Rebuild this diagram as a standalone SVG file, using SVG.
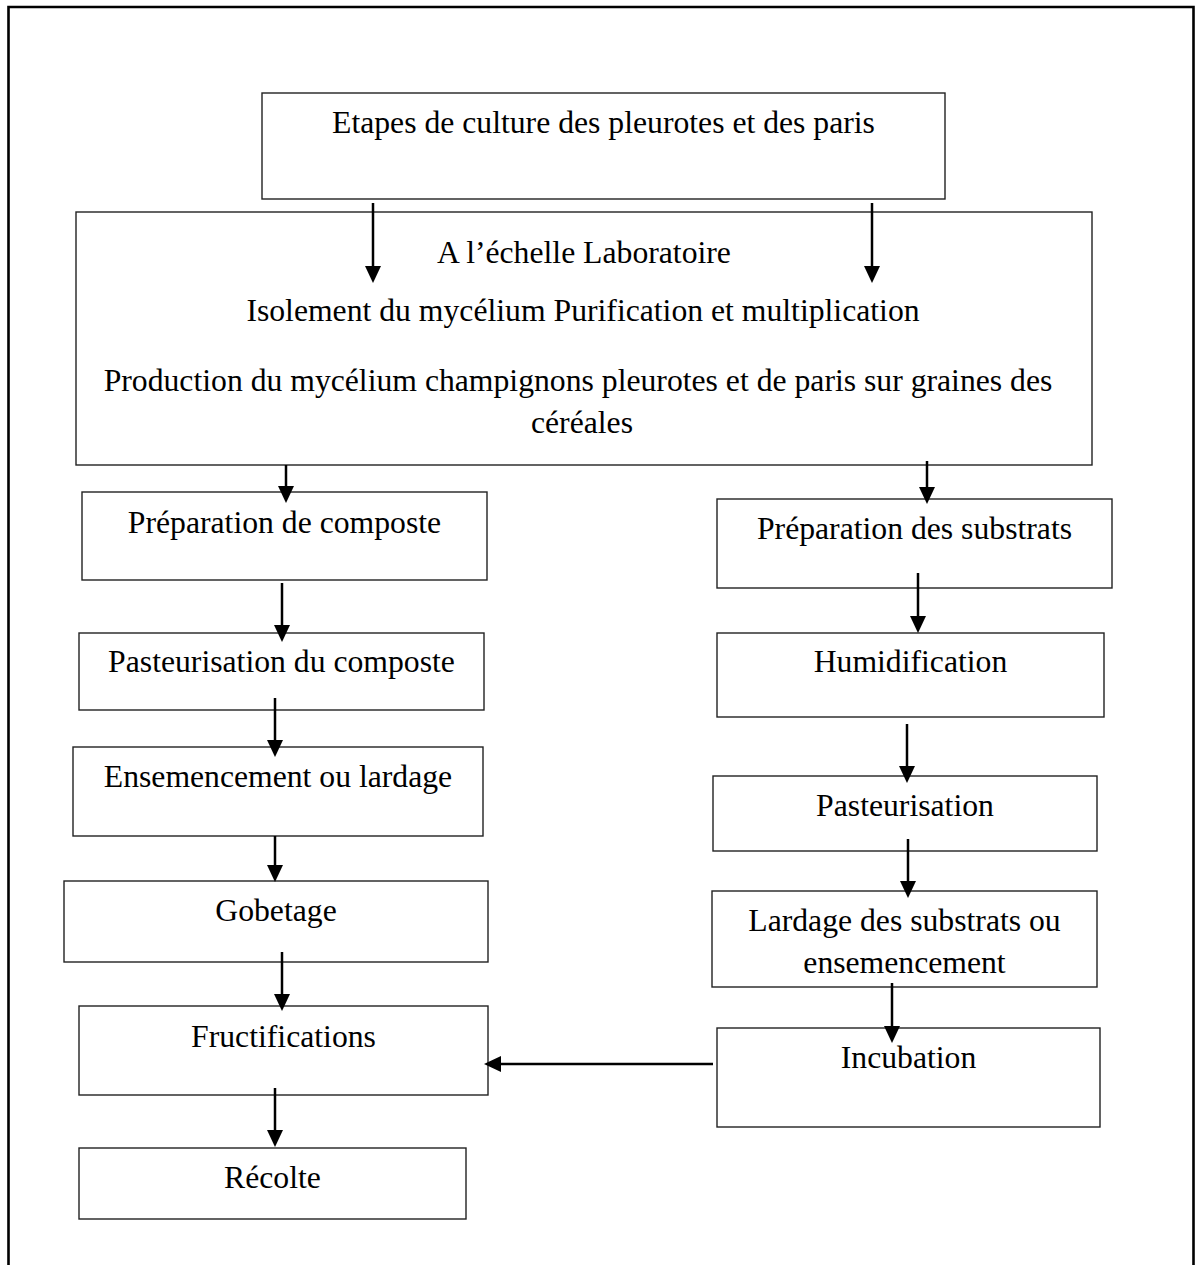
<svg xmlns="http://www.w3.org/2000/svg" width="1198" height="1265" viewBox="0 0 1198 1265">
<style>
.box{fill:#fff;stroke:#222;stroke-width:1.4}
.t{font-family:"Liberation Serif","Times New Roman",serif;font-size:31.7px;fill:#000;text-anchor:middle}
.c{stroke:#000;stroke-width:2.5;fill:none;marker-end:url(#ah)}
</style>
<defs>
<marker id="ah" markerUnits="userSpaceOnUse" viewBox="0 0 17 17" markerWidth="17" markerHeight="17" refX="8" refY="8.5" orient="auto">
<path d="M0,0.5 L17,8.5 L0,16.5 z" fill="#000"/>
</marker>
</defs>
<rect width="1198" height="1265" fill="#fff"/>
<path d="M8.5,1270 L8.5,7 L1193.5,7 L1193.5,1270" fill="none" stroke="#000" stroke-width="2.6"/>

<g id="n-title"><rect class="box" x="262" y="93" width="683" height="106"/><text class="t" x="603.5" y="133">Etapes de culture des pleurotes et des paris</text></g>
<g id="n-labo"><rect class="box" x="76" y="212" width="1016" height="253"/>
<text class="t" x="584" y="263">A l’échelle Laboratoire</text>
<text class="t" x="583" y="321">Isolement du mycélium Purification et multiplication</text>
<text class="t" x="578" y="391">Production du mycélium champignons pleurotes et de paris sur graines des</text>
<text class="t" x="582" y="433">céréales</text></g>
<g id="n-prep-compost"><rect class="box" x="82" y="492" width="405" height="88"/><text class="t" x="284.5" y="533">Préparation de composte</text></g>
<g id="n-past-compost"><rect class="box" x="79" y="633" width="405" height="77"/><text class="t" x="281.5" y="672">Pasteurisation du composte</text></g>
<g id="n-ensemencement"><rect class="box" x="73" y="747" width="410" height="89"/><text class="t" x="278" y="787">Ensemencement ou lardage</text></g>
<g id="n-gobetage"><rect class="box" x="64" y="881" width="424" height="81"/><text class="t" x="276" y="921">Gobetage</text></g>
<g id="n-fructifications"><rect class="box" x="79" y="1006" width="409" height="89"/><text class="t" x="283.5" y="1047">Fructifications</text></g>
<g id="n-recolte"><rect class="box" x="79" y="1148" width="387" height="71"/><text class="t" x="272.5" y="1188">Récolte</text></g>
<g id="n-prep-substrats"><rect class="box" x="717" y="499" width="395" height="89"/><text class="t" x="914.5" y="539">Préparation des substrats</text></g>
<g id="n-humidification"><rect class="box" x="717" y="633" width="387" height="84"/><text class="t" x="910.5" y="672">Humidification</text></g>
<g id="n-pasteurisation"><rect class="box" x="713" y="776" width="384" height="75"/><text class="t" x="905" y="816">Pasteurisation</text></g>
<g id="n-lardage"><rect class="box" x="712" y="891" width="385" height="96"/><text class="t" x="904.5" y="931">Lardage des substrats ou</text><text class="t" x="904.5" y="973">ensemencement</text></g>
<g id="n-incubation"><rect class="box" x="717" y="1028" width="383" height="99"/><text class="t" x="908.5" y="1068">Incubation</text></g>

<g id="connectors">
<line class="c" x1="373" y1="203" x2="373" y2="274"/>
<line class="c" x1="872" y1="203" x2="872" y2="274"/>
<line class="c" x1="286" y1="465" x2="286" y2="494"/>
<line class="c" x1="927" y1="461" x2="927" y2="495"/>
<line class="c" x1="282" y1="583" x2="282" y2="633"/>
<line class="c" x1="918" y1="573" x2="918" y2="624"/>
<line class="c" x1="275" y1="698" x2="275" y2="748"/>
<line class="c" x1="907" y1="724" x2="907" y2="774"/>
<line class="c" x1="275" y1="836" x2="275" y2="873"/>
<line class="c" x1="908" y1="839" x2="908" y2="889"/>
<line class="c" x1="282" y1="952" x2="282" y2="1002"/>
<line class="c" x1="892" y1="983" x2="892" y2="1034"/>
<line class="c" x1="275" y1="1088" x2="275" y2="1138"/>
<line class="c" x1="713" y1="1064" x2="493" y2="1064"/>
</g>
</svg>
